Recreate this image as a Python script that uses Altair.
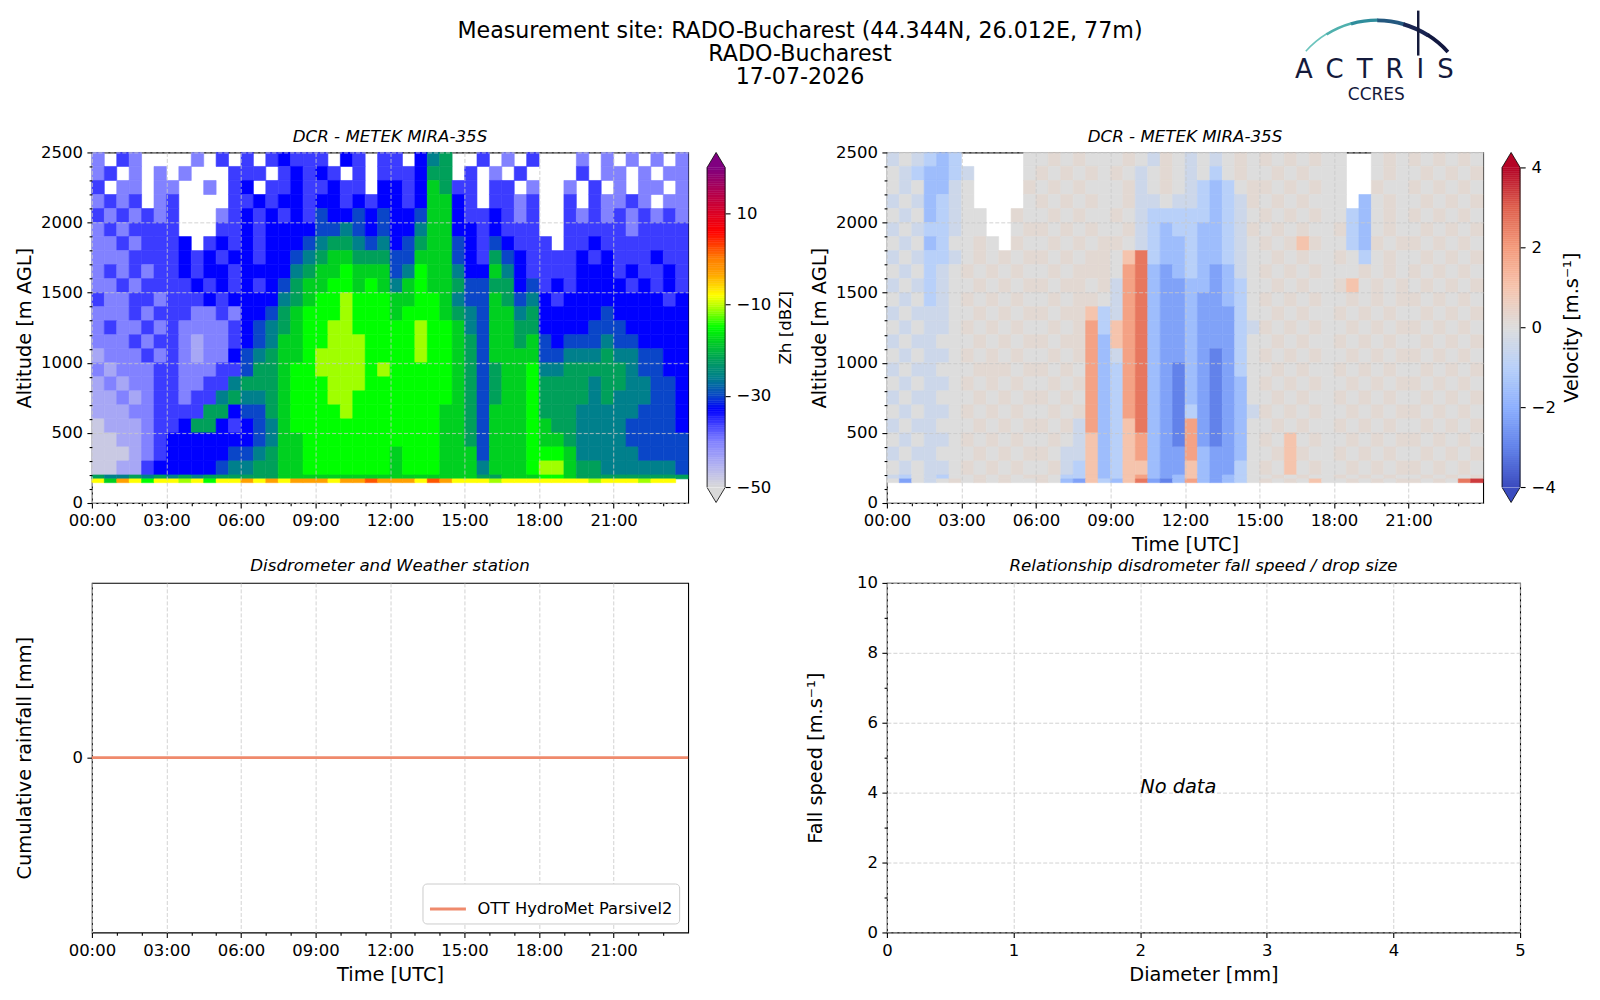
import altair as alt
import pandas as pd

FONT = "DejaVu Sans"
NAVY = "#141a3c"
SALMON = "#ef8a6c"

# ------------------------------------------------------------------ data
title_lines = ["Measurement site: RADO-Bucharest (44.344N, 26.012E, 77m)",
               "RADO-Bucharest", "17-07-2026"]
sub_titles = ["DCR - METEK MIRA-35S", "DCR - METEK MIRA-35S",
              "Disdrometer and Weather station",
              "Relationship disdrometer fall speed / drop size"]

hours = [i * 0.5 for i in range(49)]  # 30-min column edges 00:00 .. 24:00
alt_low = [2400, 2300, 2200, 2100, 2000, 1900, 1800, 1700, 1600, 1500, 1400, 1300,
           1200, 1100, 1000, 900, 800, 700, 600, 500, 400, 300, 200, 172, 145]
alt_high = [2500, 2400, 2300, 2200, 2100, 2000, 1900, 1800, 1700, 1600, 1500, 1400,
            1300, 1200, 1100, 1000, 900, 800, 700, 600, 500, 400, 300, 200, 172]

# reflectivity (dBZ), one code per 30-min x altitude cell
zh_code = {"0": -48, "1": -44, "2": -40, "3": -36, "4": -33, "5": -30, "6": -26,
           "7": -22, "8": -18, "9": -15, "A": -11, "B": -8, "C": -3, "D": 2}
zh_rows = [
    "2.32.. ..2.3. 3.3433 3.43.3 3.467. .3.2.3 ...2.2 .2.2.2",
    "23.2.2 .2...3 33.343 43.3.3 33477. 3.2.3. ...3.2 2.2.22",
    "3.22.2 2..2.3 4.3343 3433.4 434873 3.33.2 ..2.3. 2.22.2",
    "2323.2 3....3 343443 443434 434884 3.3323 ..3.32 232.22",
    "323232 3...23 434343 544545 445884 334323 ..3232 323232",
    "232333 3...33 434444 556545 446884 434333 ..3333 323333",
    "223233 34.343 434445 677656 457885 435433 3.3343 333333",
    "222333 343434 434456 788777 558885 437543 333434 333433",
    "232323 343443 444467 889888 569886 448643 333444 343343",
    "223233 334343 434578 899898 689887 557745 343444 434343",
    "322332 333434 444678 99A999 889986 558756 434444 444434",
    "222323 332232 445789 99A999 899987 658867 444445 444444",
    "232232 322223 456789 9AA999 99A998 658877 444455 544444",
    "222323 321223 456889 9AAA99 99A998 758878 545556 554444",
    "122232 321224 567889 AAAA99 99A998 758888 556667 665544",
    "212223 322233 577899 AAAA9A 999998 757889 667777 765544",
    "121223 322336 777899 9AAA99 999998 757889 777767 766554",
    "112123 323367 667899 9AA999 999998 757889 777767 666554",
    "111223 333774 557899 99A999 999988 758889 777666 665554",
    "011123 347743 456899 999999 999988 758889 877666 655554",
    "001123 444444 456889 999999 999988 758889 887666 655555",
    "000123 444445 567889 999999 899988 858889 998666 665555",
    "001134 444456 677889 999999 899988 868889 AA8776 666665",
    "766767 676777 777888 888888 888888 877888 998777 777777",
    "B8CB9B BAB9BB CBCBCC CBCCDC CCBDCB BBABBB BBBBAB BBABB.",
]

# Doppler velocity (m/s)
vel_code = {"a": -3.0, "b": -2.3, "c": -1.6, "d": -1.0, "e": -0.45, "f": 0.0,
            "g": 0.22, "h": 1.0, "i": 1.8, "j": 2.6, "k": 3.4}
vel_rows = [
    "efedcd .....f fgfgff fgfegf efefgf gfgfgf f..fgf gfgfgf",
    "fedccd e....f gfgfgf gfefgf efdfgf fgfgff f..fgf fgfgfg",
    "fefcce f....g fgfgff fgefgf edcdfg gfgfgf f..gff gfgfgf",
    "efecde f....f gfgfgf fgeefe edcdeg fgfgff f.cfgf fgfgfg",
    "fefcde ff..gf fgfgff gfeddd ddcdef gfgfgf fdcfgf gfgfgf",
    "efedde ff..fg gfgfgf fgedcd dccdeg fgfgff gdcfgf fgfgfg",
    "fefcdf fgf.gf fgfgfg gfedcc dccdef gfghgf fdcgfg gfgfgf",
    "efedde fgfgfg gfgfgg fhjdcc dccdef fgfgff gfdfgf fgfgfg",
    "fefdef gfgfgf fgfggg fijcbc dcbcef gfgfgf ffgfgf gfgfgf",
    "efedef fgfgfg gfggfg eijcbb ccbcdf fgfgff ghfgfg fgfgfg",
    "fefdef gfgfgf fgfggf eijcbb cbbcdf gfgfgf fgfgfg gfgfgf",
    "efeeef fgfgfg gfgghd eijcbb cbbbdf fgfgff gfgfgf fgfgfg",
    "fefeef gfgfgf fgfgid hijcbb cbbbde gfgfgf fgfgfg gfgfgf",
    "efeeff fgfgfg gfggic hijcbb cbbbdf fgfgff gfgfgf fgfgfg",
    "fefeef gfgfgf fgfgic eijcbb cbabdf gfgfgf fgfgfg gfgfgf",
    "efeeff fgggfg gfgfic dijcba cbabdf fgfgff gfgfgf fgfgfg",
    "fefeef gfgfgf fgfgic dijcba cbabcf gfgfgf fgfgfg gfgfgf",
    "efeeff fgfgfg gfgfic dijcba cbabcf fgfgff gfgfgf fgfgfg",
    "fefeef gfgfgf fgfgic dijcba dbabce gfgfgf fgfgfg gfgfgf",
    "efeeff fgfgfg gfgeic dhjcba ibabcf fgfgff gfgfgf fgfgfg",
    "fefeef gfgfgf fgfehc dhicba ibabcf gfhfgf fgfgfg gfgfgf",
    "efeeff fgfgfg gfeehc dhicbb icbbcf fghgff gfgfgf fgfgfg",
    "fefeef gfgfgf fgedhc dhhcbb hcbbdf gfhfgf fgfgfg gfgfgf",
    "edfedf fgfgfg gfddhc dhicbc hcbcdf fgfgff gfgfgf fgfgfg",
    "fbfefg fgfgff gfcbhd chjbac icbcdf gfgfhf fgfgfg gfgfjk",
]

rain_hours = [0, 6, 12, 18, 24]
rain_mm = [0.0, 0.0, 0.0, 0.0, 0.0]
rain_label = "OTT HydroMet Parsivel2"

nodata_d = [2.0]
nodata_v = [4.0]

zh_stops = [-50, -45, -40, -36, -33, -30, -26, -22, -18, -15, -11, -8, -3, 0, 6, 13, 20]
zh_colors = ["#d9d9d9", "#b0b0f2", "#8282ff", "#3c3cff", "#0000ff", "#0a46c8", "#00808c",
             "#00a05a", "#00d020", "#00ff00", "#a0ff00", "#ffff00", "#ffa000", "#ff8000",
             "#ff0000", "#c00040", "#800080"]
vel_stops = [-4, -3, -2, -1, 0, 1, 2, 3, 4]
vel_colors = ["#3b4cc0", "#6282ea", "#8db0fe", "#b8d0f9", "#dddddd",
              "#f5c4ad", "#f49a7b", "#de604d", "#b40426"]

# logo arc (decoration)
arc_t0 = [5.445, 5.724, 6.004, 6.283, 6.562, 6.842]
arc_t1 = [5.734, 6.014, 6.293, 6.572, 6.852, 7.121]
arc_ri = [95.5, 94.5, 93.8, 93.3, 93.0, 93.3]
arc_col = ["#6cc4bd", "#4fb0ad", "#2f8d9c", "#24587f", "#1a2552", "#121840"]

# ------------------------------------------------------------------ layout
W1, H1 = 597, 351
W2, H2 = 634, 350
CB_X0, CB_X1 = 616, 634
CB_Y0, CB_Y1 = 15, 335


def grid_frame(rows, code):
    recs = []
    for r, row in enumerate(rows):
        cells = row.replace(" ", "")
        for c, ch in enumerate(cells[:48]):
            if ch in code:
                recs.append({"t0": hours[c], "t1": hours[c + 1],
                             "a0": alt_low[r], "a1": alt_high[r], "v": code[ch]})
    return pd.DataFrame(recs)


def cb_frame(lo, hi, n):
    step = (hi - lo) / n
    edges = [lo + step * i for i in range(n + 1)]
    return pd.DataFrame({"lo": edges[:-1], "hi": edges[1:],
                         "mid": [(a + b) / 2 for a, b in zip(edges[:-1], edges[1:])]})


def cond(test, major, minor):
    return {"condition": {"test": test, "value": major}, "value": minor}


def hour_axis(title, z):
    kw = dict(values=list(range(24)), format="d",
              labelExpr="datum.value % 3 === 0 ? ((datum.value < 10 ? '0' : '') + datum.value + ':00') : ''",
              tickSize=cond("datum.value % 3 === 0", 5, 2.8),
              gridOpacity=cond("datum.value % 3 === 0", 1, 0),
              grid=True, zindex=z, labelFlush=False, labelOverlap=False, labelPadding=5)
    if title:
        kw.update(title=title, titleX=W1 / 2, titleY=42, titleBaseline="middle", titleAlign="center")
    else:
        kw.update(title=None)
    return alt.Axis(**kw)


def altitude_axis():
    return alt.Axis(values=list(range(0, 2501, 100)), format="d",
                    labelExpr="datum.value % 500 === 0 ? datum.label : ''",
                    tickSize=cond("datum.value % 500 === 0", 5, 2.8),
                    gridOpacity=cond("datum.value % 500 === 0", 1, 0),
                    grid=True, zindex=1, labelPadding=4.5,
                    title="Altitude [m AGL]", titleX=-67.5, titleY=H1 / 2, titleAngle=270,
                    titleBaseline="middle", titleAlign="center")


one = pd.DataFrame({"k": [0]})


def subtitle(text, w, dy):
    return alt.Chart(one).mark_text(fontSize=16.7, fontStyle="italic", align="center",
                                    baseline="alphabetic", color="black").encode(
        x=alt.value(w / 2), y=alt.value(dy), text=alt.value(text))


def heat_panel(df, stops, colors, cb_df, cb_values, cb_title, cb_title_size, cb_title_x,
               x_title, sub, extra):
    scale = alt.Scale(domain=stops, range=colors, interpolate="rgb", clamp=True)
    heat = alt.Chart(df).mark_rect(strokeWidth=0.6).encode(
        x=alt.X("t0:Q", scale=alt.Scale(domain=[0, 24], nice=False, zero=False),
                axis=hour_axis(x_title, 1)),
        x2="t1:Q",
        y=alt.Y("a0:Q", scale=alt.Scale(domain=[0, 2500], nice=False), axis=altitude_axis()),
        y2="a1:Q",
        color=alt.Color("v:Q", scale=scale, legend=None),
        stroke=alt.Stroke("v:Q", scale=scale, legend=None),
    )
    cbar = alt.Chart(cb_df).mark_rect(strokeWidth=0.5).encode(
        x=alt.value(CB_X0), x2=alt.value(CB_X1),
        y=alt.Y("lo:Q", scale=alt.Scale(domain=[stops[0], stops[-1]], range=[CB_Y1, CB_Y0],
                                        nice=False, zero=False),
                axis=alt.Axis(orient="right", offset=CB_X1 - W1, values=cb_values, format="d",
                              grid=False, tickSize=5, labelPadding=6,
                              title=cb_title, titleFontSize=cb_title_size, titleAngle=270,
                              titleX=cb_title_x, titleY=(CB_Y0 + CB_Y1) / 2,
                              titleBaseline="middle", titleAlign="center")),
        y2="hi:Q",
        color=alt.Color("mid:Q", scale=scale, legend=None),
        stroke=alt.Stroke("mid:Q", scale=scale, legend=None),
    )
    cx = (CB_X0 + CB_X1) / 2
    tri_up = alt.Chart(one).mark_point(shape="M-1,0.833L0,-0.833L1,0.833", filled=True,
                                       size=(CB_X1 - CB_X0) ** 2, opacity=1, fill=colors[-1],
                                       stroke="black", strokeWidth=0.8).encode(
        x=alt.value(cx), y=alt.value(CB_Y0 / 2))
    tri_dn = alt.Chart(one).mark_point(shape="M-1,-0.833L0,0.833L1,-0.833", filled=True,
                                       size=(CB_X1 - CB_X0) ** 2, opacity=1, fill=colors[0],
                                       stroke="black", strokeWidth=0.8).encode(
        x=alt.value(cx), y=alt.value((CB_Y1 + H1) / 2))
    side_l = alt.Chart(one).mark_rule(color="black", strokeWidth=0.8).encode(
        x=alt.value(CB_X0), y=alt.value(CB_Y0), y2=alt.value(CB_Y1))
    side_r = alt.Chart(one).mark_rule(color="black", strokeWidth=0.8).encode(
        x=alt.value(CB_X1), y=alt.value(CB_Y0), y2=alt.value(CB_Y1))
    layers = extra + [heat, cbar, tri_up, tri_dn, side_l, side_r, subtitle(sub, W1, -10)]
    return alt.layer(*layers).resolve_scale(y="independent").properties(width=W1, height=H1)


# ---- header, logo and page frame (drawn in the first panel, pixel offsets from its origin)
bbox = alt.Chart(one).mark_rect(opacity=0).encode(
    x=alt.value(-83), x2=alt.value(1501), y=alt.value(-142), y2=alt.value(842))
header = alt.Chart(one).mark_text(fontSize=22.2, lineHeight=23, align="center",
                                  baseline="middle", color="black").encode(
    x=alt.value(709), y=alt.value(-121.5), text=alt.value(title_lines))
arc_df = pd.DataFrame({"t0": arc_t0, "t1": arc_t1, "ro": [97.0] * 6, "ri": arc_ri, "col": arc_col})
logo_arc = alt.Chart(arc_df).mark_arc().encode(
    x=alt.value(1287), y=alt.value(-37),
    theta=alt.Theta("t0:Q", scale=None), theta2="t1:Q",
    radius=alt.Radius("ro:Q", scale=None), radius2="ri:Q",
    fill=alt.Fill("col:N", scale=None))
logo_line = alt.Chart(one).mark_rule(color=NAVY, strokeWidth=2.5).encode(
    x=alt.value(1328), y=alt.value(-142), y2=alt.value(-97))
logo_txt = alt.Chart(one).mark_text(fontSize=26, align="center", baseline="alphabetic",
                                    color=NAVY).encode(
    x=alt.value(1284), y=alt.value(-75), text=alt.value("A\u2002C\u2002T\u2002R\u2002I\u2002S"))
logo_sub = alt.Chart(one).mark_text(fontSize=17, align="center", baseline="middle",
                                    color=NAVY).encode(
    x=alt.value(1286), y=alt.value(-58), text=alt.value("CCRES"))

tl = heat_panel(grid_frame(zh_rows, zh_code), zh_stops, zh_colors, cb_frame(-50, 20, 140),
                [-50, -30, -10, 10], "Zh [dBZ]", 16.7, 60, None, sub_titles[0],
                [bbox, header, logo_arc, logo_line, logo_txt, logo_sub])
tr = heat_panel(grid_frame(vel_rows, vel_code), vel_stops, vel_colors, cb_frame(-4, 4, 160),
                [-4, -2, 0, 2, 4], "Velocity [m.s\u207b\u00b9]", 19.4, 51, "Time [UTC]",
                sub_titles[1], [])

# ---- cumulative rainfall
rain_df = pd.DataFrame({"hour": rain_hours, "mm": rain_mm, "inst": [rain_label] * len(rain_hours)})
rain_line = alt.Chart(rain_df).mark_line(strokeWidth=2.8).encode(
    x=alt.X("hour:Q", scale=alt.Scale(domain=[0, 24], nice=False, zero=False),
            axis=hour_axis("Time [UTC]", 0)),
    y=alt.Y("mm:Q", scale=alt.Scale(domain=[-1, 1], nice=False),
            axis=alt.Axis(values=[0], format="d", grid=False, tickSize=5, labelPadding=4.5,
                          title="Cumulative rainfall [mm]", titleX=-67.5, titleY=H2 / 2,
                          titleAngle=270, titleBaseline="middle", titleAlign="center")),
    color=alt.Color("inst:N", scale=alt.Scale(range=[SALMON]),
                    legend=alt.Legend(title=None, orient="bottom-right", offset=9, padding=6,
                                      strokeColor="#cccccc", fillColor="white", cornerRadius=4,
                                      symbolType="stroke", symbolSize=1296, symbolStrokeWidth=2.8,
                                      labelFontSize=16.3, labelOffset=10, labelLimit=0,
                                      labelColor="black")),
)
bl = alt.layer(rain_line, subtitle(sub_titles[2], W1, -12)).properties(width=W1, height=H2)

# ---- fall speed / drop size
nd_df = pd.DataFrame({"d": nodata_d, "v": nodata_v, "txt": ["No data"]})
nodata = alt.Chart(nd_df).mark_text(align="left", baseline="alphabetic", fontStyle="italic",
                                    fontSize=19.4, color="black").encode(
    x=alt.X("d:Q", scale=alt.Scale(domain=[0, 5], nice=False, zero=False),
            axis=alt.Axis(values=[i * 0.5 for i in range(11)], format="d",
                          labelExpr="datum.value % 1 === 0 ? datum.label : ''",
                          tickSize=cond("datum.value % 1 === 0", 5, 2.8),
                          gridOpacity=cond("datum.value % 1 === 0", 1, 0),
                          grid=True, labelFlush=False, labelOverlap=False, labelPadding=5,
                          title="Diameter [mm]", titleX=W2 / 2, titleY=42,
                          titleBaseline="middle", titleAlign="center")),
    y=alt.Y("v:Q", scale=alt.Scale(domain=[0, 10], nice=False),
            axis=alt.Axis(values=list(range(11)), format="d",
                          labelExpr="datum.value % 2 === 0 ? datum.label : ''",
                          tickSize=cond("datum.value % 2 === 0", 5, 2.8),
                          gridOpacity=cond("datum.value % 2 === 0", 1, 0),
                          grid=True, labelPadding=4.5,
                          title="Fall speed [m.s\u207b\u00b9]", titleX=-71, titleY=H2 / 2,
                          titleAngle=270, titleBaseline="middle", titleAlign="center")),
    text="txt:N",
)
br = alt.layer(nodata, subtitle(sub_titles[3], W2, -12)).properties(width=W2, height=H2)

chart = alt.concat(tl, tr, bl, br, columns=2).properties(
    spacing={"row": 80, "column": 199}, bounds="flush", padding=0
).resolve_scale(
    color="independent", stroke="independent", fill="independent"
).configure(font=FONT).configure_view(
    stroke="black", strokeWidth=1.1
).configure_axis(
    labelFont=FONT, labelFontSize=16.5, labelColor="black", labelFlush=False,
    titleFont=FONT, titleFontSize=19.4, titleFontWeight="normal", titleColor="black",
    tickColor="black", tickWidth=1.1, domain=False,
    gridColor="#c8c8c8", gridDash=[4, 2], gridWidth=0.8
)

chart.save("out.html", embed_options={"renderer": "svg", "actions": False})
